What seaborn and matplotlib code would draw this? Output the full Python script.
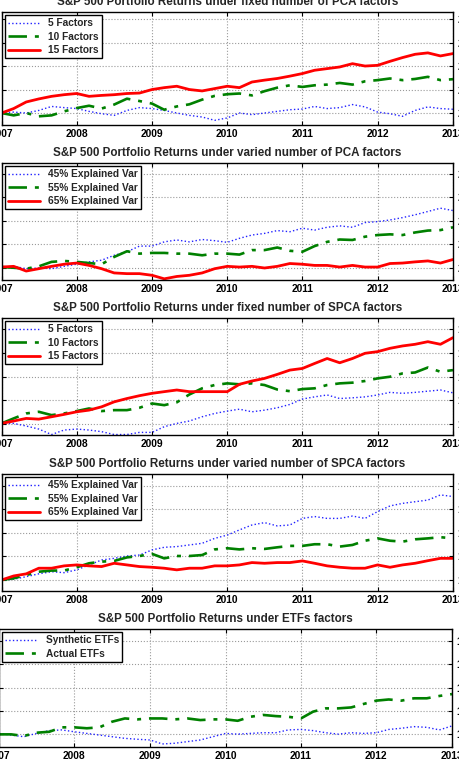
import pandas as pd
import numpy as np
import matplotlib
matplotlib.use('Agg')
import matplotlib.pyplot as plt
import matplotlib.dates as mdates
import seaborn as sns

# sample dates (every two months, Jan 2007 .. Jan 2013)
dates = pd.date_range('2007-01-01', '2013-01-01', freq='2MS')

# 1. PCA, fixed number of factors
pca_fix_5 = [20.00, 20.04, 20.00, 20.11, 20.28, 20.23, 20.19, 20.07, 19.97, 19.90, 20.11, 20.23, 20.19,
             20.11, 20.00, 19.90, 19.83, 19.69, 19.79, 20.00, 19.93, 20.00, 20.07, 20.14, 20.17, 20.28,
             20.19, 20.23, 20.36, 20.26, 20.04, 19.97, 19.86, 20.11, 20.26, 20.19, 20.16]
pca_fix_10 = [20.00, 19.90, 20.00, 19.86, 19.90, 20.07, 20.21, 20.31, 20.19, 20.36, 20.61, 20.51, 20.40,
              20.14, 20.28, 20.37, 20.57, 20.73, 20.80, 20.83, 20.75, 20.93, 21.08, 21.18, 21.11, 21.18,
              21.21, 21.28, 21.21, 21.35, 21.40, 21.47, 21.40, 21.45, 21.54, 21.40, 21.44]
pca_fix_15 = [20.00, 20.19, 20.47, 20.60, 20.71, 20.78, 20.83, 20.71, 20.75, 20.78, 20.83, 20.85, 21.00,
              21.08, 21.14, 21.00, 20.94, 21.04, 21.14, 21.08, 21.32, 21.40, 21.47, 21.57, 21.68, 21.82,
              21.89, 21.96, 22.10, 22.00, 22.03, 22.20, 22.36, 22.50, 22.56, 22.43, 22.53]

# 2. PCA, varied explained variance
pca_var_45 = [20.04, 20.07, 19.97, 20.00, 19.97, 20.07, 20.16, 20.26, 20.33, 20.54, 20.69, 20.93, 20.93,
              21.11, 21.19, 21.11, 21.21, 21.16, 21.09, 21.26, 21.40, 21.47, 21.59, 21.54, 21.69, 21.61,
              21.73, 21.79, 21.73, 21.93, 21.97, 22.04, 22.14, 22.26, 22.40, 22.54, 22.44]
pca_var_55 = [20.04, 20.01, 19.97, 20.07, 20.26, 20.30, 20.26, 20.21, 20.16, 20.47, 20.71, 20.61, 20.64,
              20.64, 20.61, 20.61, 20.54, 20.61, 20.61, 20.57, 20.76, 20.76, 20.87, 20.73, 20.69, 20.93,
              21.11, 21.21, 21.19, 21.33, 21.40, 21.43, 21.40, 21.51, 21.59, 21.61, 21.73]
pca_var_65 = [20.04, 20.07, 19.87, 19.97, 20.07, 20.16, 20.21, 20.11, 19.97, 19.79, 19.76, 19.76, 19.69,
              19.54, 19.64, 19.69, 19.79, 19.97, 20.07, 20.04, 20.07, 20.00, 20.07, 20.19, 20.16, 20.11,
              20.11, 20.04, 20.11, 20.04, 20.04, 20.19, 20.21, 20.26, 20.30, 20.21, 20.36]

# 3. SPCA, fixed number of factors
spca_fix_5 = [10.03, 10.03, 9.92, 9.79, 9.56, 9.75, 9.79, 9.75, 9.68, 9.56, 9.56, 9.65, 9.65,
              9.89, 10.03, 10.13, 10.31, 10.45, 10.55, 10.63, 10.52, 10.59, 10.69, 10.83, 11.06, 11.15,
              11.23, 11.08, 11.11, 11.15, 11.23, 11.34, 11.30, 11.34, 11.39, 11.44, 11.32]
spca_fix_10 = [10.03, 10.24, 10.45, 10.52, 10.38, 10.45, 10.55, 10.66, 10.55, 10.59, 10.59, 10.69, 10.87,
               10.80, 10.92, 11.25, 11.51, 11.65, 11.72, 11.68, 11.72, 11.65, 11.46, 11.39, 11.48, 11.51,
               11.65, 11.72, 11.75, 11.82, 11.93, 12.00, 12.14, 12.18, 12.39, 12.21, 12.28]
spca_fix_15 = [10.03, 10.13, 10.24, 10.21, 10.31, 10.41, 10.52, 10.59, 10.73, 10.94, 11.08, 11.20, 11.30,
               11.37, 11.44, 11.37, 11.37, 11.37, 11.37, 11.68, 11.82, 11.93, 12.10, 12.28, 12.35, 12.56,
               12.77, 12.59, 12.77, 12.99, 13.06, 13.20, 13.30, 13.37, 13.48, 13.37, 13.65]

# 4. SPCA, varied explained variance
spca_var_45 = [10.00, 10.03, 10.14, 10.26, 10.35, 10.31, 10.43, 10.64, 10.85, 10.92, 11.02, 11.06, 11.28,
               11.39, 11.42, 11.49, 11.56, 11.77, 11.91, 12.13, 12.34, 12.44, 12.30, 12.34, 12.62, 12.70,
               12.62, 12.62, 12.72, 12.62, 12.91, 13.15, 13.26, 13.33, 13.40, 13.62, 13.55]
spca_var_55 = [10.00, 10.07, 10.21, 10.35, 10.40, 10.40, 10.54, 10.71, 10.78, 10.81, 10.96, 11.02, 11.11,
               10.92, 11.02, 11.02, 11.06, 11.30, 11.35, 11.30, 11.35, 11.32, 11.39, 11.45, 11.45, 11.52,
               11.52, 11.42, 11.49, 11.67, 11.77, 11.67, 11.63, 11.73, 11.77, 11.82, 11.77]
spca_var_65 = [10.00, 10.17, 10.26, 10.50, 10.50, 10.60, 10.64, 10.60, 10.57, 10.71, 10.64, 10.57, 10.54,
               10.50, 10.43, 10.50, 10.50, 10.60, 10.60, 10.64, 10.74, 10.71, 10.74, 10.74, 10.81, 10.71,
               10.60, 10.54, 10.50, 10.50, 10.64, 10.54, 10.64, 10.71, 10.82, 10.92, 10.92]

# 5. ETFs
etf_synth = [10.04, 9.97, 9.90, 10.04, 10.16, 10.19, 10.11, 10.04, 9.97, 9.90, 9.83, 9.79, 9.76,
             9.59, 9.62, 9.69, 9.76, 9.90, 10.04, 10.01, 10.04, 10.07, 10.07, 10.19, 10.21, 10.16,
             10.07, 10.01, 10.07, 10.04, 10.07, 10.21, 10.26, 10.33, 10.30, 10.19, 10.36]
etf_actual = [10.00, 10.00, 9.93, 10.07, 10.11, 10.30, 10.30, 10.26, 10.30, 10.54, 10.68, 10.64, 10.68,
              10.68, 10.64, 10.68, 10.61, 10.64, 10.64, 10.58, 10.75, 10.83, 10.78, 10.75, 10.68, 10.97,
              11.11, 11.11, 11.15, 11.30, 11.44, 11.49, 11.44, 11.54, 11.54, 11.64, 11.72]

titles = ['S&P 500 Portfolio Returns under fixed number of PCA factors',
          'S&P 500 Portfolio Returns under varied number of PCA factors',
          'S&P 500 Portfolio Returns under fixed number of SPCA factors',
          'S&P 500 Portfolio Returns under varied number of SPCA factors',
          'S&P 500 Portfolio Returns under ETFs factors']
fix_labels = ['5 Factors', '10 Factors', '15 Factors']
var_labels = ['45% Explained Var', '55% Explained Var', '65% Explained Var']
etf_labels = ['Synthetic ETFs', 'Actual ETFs']

panels = [
    (titles[0], [pca_fix_5, pca_fix_10, pca_fix_15], fix_labels, [20, 21, 22, 23, 24], (19.49, 24.3)),
    (titles[1], [pca_var_45, pca_var_55, pca_var_65], var_labels, [20, 21, 22, 23, 24], (19.49, 24.46)),
    (titles[2], [spca_fix_5, spca_fix_10, spca_fix_15], fix_labels, [10, 11, 12, 13, 14], (9.54, 14.48)),
    (titles[3], [spca_var_45, spca_var_55, spca_var_65], var_labels, [10, 11, 12, 13, 14], (9.53, 14.51)),
    (titles[4], [etf_synth, etf_actual], etf_labels, [10, 11, 12, 13, 14], (9.46, 14.5)),
]

# line styles: blue dotted, green dash-dot, red solid
styles = [dict(color='#2222ff', linestyle=':', linewidth=1.0),
          dict(color='#008000', linestyle=(0, (7, 3, 1.5, 3)), linewidth=1.9),
          dict(color='#ff0000', linestyle='-', linewidth=2.0)]

# pixel boxes (left, top, right, bottom) in a 459x768 canvas
boxes = [(1.5, 12, 453, 125), (1.5, 163, 453, 280), (1.5, 318, 453, 435),
         (1.5, 474, 453, 591), (-1, 629, 452, 747)]

sns.set_theme(style='white')
plt.rcParams['font.family'] = ['Liberation Sans', 'DejaVu Sans']
plt.rcParams['font.weight'] = 'bold'

W, H = 459, 768
fig = plt.figure(figsize=(W / 100, H / 100), dpi=100)

for (title, series, labels, yt, ylim), (l, t, r, b) in zip(panels, boxes):
    ax = fig.add_axes([l / W, 1 - b / H, (r - l) / W, (b - t) / H])
    for vals, lab, st in zip(series, labels, styles):
        sns.lineplot(x=dates, y=vals, ax=ax, label=lab, **st)
    ax.set_xlim(pd.Timestamp('2007-01-01'), pd.Timestamp('2013-01-01'))
    ax.set_ylim(*ylim)
    ax.set_yticks(yt)
    ax.xaxis.set_major_locator(mdates.YearLocator())
    ax.xaxis.set_major_formatter(mdates.DateFormatter('%Y'))
    ax.grid(True, linestyle=':', color='#9a9a9a', linewidth=0.8)
    ax.tick_params(axis='both', which='both', direction='in', length=3, width=0.8,
                   colors='black', labelsize=7.4)
    ax.tick_params(axis='y', left=True, right=True, labelleft=False, labelright=True, pad=3)
    ax.tick_params(axis='x', top=True, bottom=True, pad=3)
    for lbl in ax.get_xticklabels() + ax.get_yticklabels():
        lbl.set_fontweight('bold')
    for sp in ax.spines.values():
        sp.set_color('black')
        sp.set_linewidth(1.0)
    ax.set_xlabel('')
    ax.set_ylabel('')
    ax.set_title(title, fontsize=8.4, fontweight='bold', pad=5)
    leg = ax.legend(loc='upper left', fontsize=7.3, frameon=True, fancybox=False,
                    framealpha=1, edgecolor='black', handlelength=3.2,
                    borderaxespad=0.3, labelspacing=0.35, borderpad=0.3)
    leg.get_frame().set_linewidth(1.0)
    for txt in leg.get_texts():
        txt.set_fontweight('bold')

fig.savefig('out.png', dpi=100)
